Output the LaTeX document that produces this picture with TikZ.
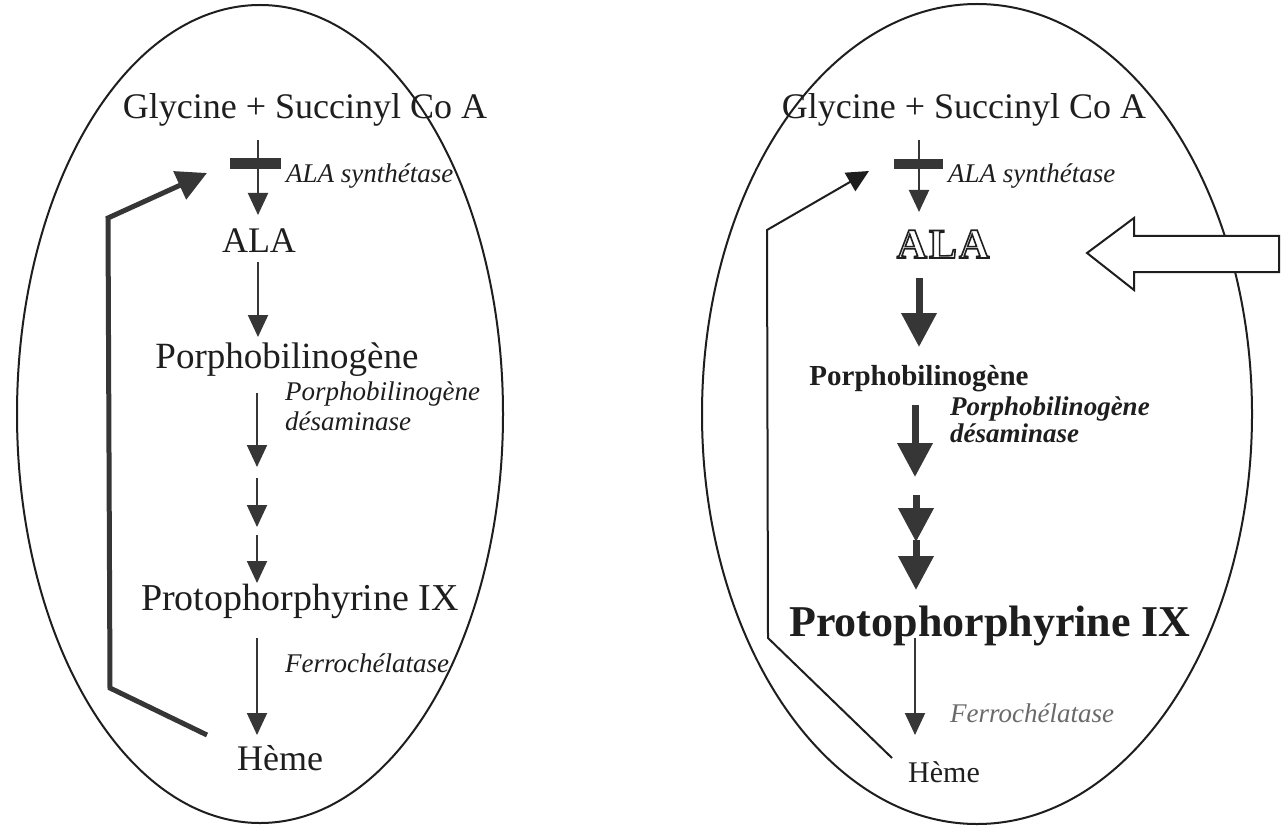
\documentclass[tikz,border=0pt]{standalone}
\usepackage{fontspec}
\setmainfont{Liberation Serif}
\usetikzlibrary{arrows.meta}
\definecolor{ink}{HTML}{1E1E1E}
\definecolor{arrowgray}{HTML}{363636}
\definecolor{fadedgray}{HTML}{6A6A6A}
% outlined (stroked, unfilled) text via PDF text rendering mode 1
\newcommand{\outlinedtext}[1]{%
  \special{pdf:literal direct q 1 Tr 1.6 w 0.12 0.12 0.12 RG}#1\special{pdf:literal direct Q}}
\tikzset{
  txt/.style={inner sep=0pt, anchor=base, text=ink, font=\fontsize{36}{40}\selectfont},
  enz/.style={inner sep=0pt, anchor=base west, text=ink, font=\fontsize{27}{30}\selectfont\itshape},
  benz/.style={inner sep=0pt, anchor=base west, text=ink, font=\fontsize{27}{30}\selectfont\bfseries\itshape},
  thinarr/.style={draw=arrowgray, line width=2pt, -{Triangle[width=20pt,length=22pt]}},
  thickarr/.style={draw=arrowgray, line width=7pt, -{Triangle[width=34pt,length=34pt]}},
  tbar/.style={fill=arrowgray, draw=none},
  fbthick/.style={draw=arrowgray, line width=5pt, line join=miter, -{Triangle[width=30pt,length=30pt]}},
  fbthin/.style={draw=ink, line width=2pt, line join=miter, -{Triangle[width=21pt,length=22pt]}},
  oval/.style={draw=ink, line width=2pt},
  hollow/.style={draw=ink, line width=2pt, fill=white, line join=miter},
}
\begin{document}
\begin{tikzpicture}[x=1pt,y=-1pt]
\useasboundingbox (0,0) rectangle (1281,826);
\fill[white] (0,0) rectangle (1281,826);

% ---------- ovals ----------
\draw[oval] (260,414) ellipse [x radius=243, y radius=409];
\draw[oval] (977,414) ellipse [x radius=275, y radius=410];

% ---------- left pathway ----------
\node[txt] (Lgly) at (305,119) {Glycine + Succinyl Co A};
\node[enz] (Lsyn) at (286,183) {ALA synthétase};
\node[txt] (Lala) at (259,252) {ALA};
\node[txt, font=\fontsize{37}{40}\selectfont] (Lpbg) at (287,368) {Porphobilinogène};
\node[enz] (Ldes1) at (285,400) {Porphobilinogène};
\node[enz] (Ldes2) at (285,430) {désaminase};
\node[txt, font=\fontsize{38}{40}\selectfont] (Lproto) at (300,610) {Protophorphyrine IX};
\node[enz] (Lferro) at (285,672) {Ferrochélatase};
\node[txt] (Lheme) at (280,770) {Hème};

\coordinate (La0) at (258,140);
\coordinate (La1) at (258,215);
\coordinate (Lb0) at (258,262);
\coordinate (Lb1) at (258,337);
\coordinate (Lc0) at (257,393);
\coordinate (Lc1) at (257,467);
\coordinate (Ld0) at (257,478);
\coordinate (Ld1) at (257,527);
\coordinate (Le0) at (257,535);
\coordinate (Le1) at (257,583);
\coordinate (Lf0) at (257,638);
\coordinate (Lf1) at (257,735);

\draw[thinarr] (La0) -- (La1);
\fill[tbar] (230,158) rectangle (281,169);
\draw[thinarr] (Lb0) -- (Lb1);
\draw[thinarr] (Lc0) -- (Lc1);
\draw[thinarr] (Ld0) -- (Ld1);
\draw[thinarr] (Le0) -- (Le1);
\draw[thinarr] (Lf0) -- (Lf1);

% feedback (left)
\coordinate (Lfb0) at (207,735);
\coordinate (Lfb1) at (110,688);
\coordinate (Lfb2) at (108,218);
\coordinate (Lfb3) at (207,173);
\draw[fbthick] (Lfb0) -- (Lfb1) -- (Lfb2) -- (Lfb3);

% ---------- right pathway ----------
\node[txt] (Rgly) at (964,119) {Glycine + Succinyl Co A};
\node[enz] (Rsyn) at (948,183) {ALA synthétase};
\node[inner sep=0pt, anchor=base, font=\fontsize{42}{46}\selectfont\bfseries] (Rala) at (943,258)
  {\outlinedtext{A\kern2pt L\kern2pt A}};
\node[txt, font=\fontsize{29}{32}\selectfont\bfseries] (Rpbg) at (919,385) {Porphobilinogène};
\node[benz] (Rdes1) at (950,415) {Porphobilinogène};
\node[benz] (Rdes2) at (950,442) {désaminase};
\node[txt, font=\fontsize{44}{46}\selectfont\bfseries] (Rproto) at (990,636) {Protophorphyrine IX};
\node[enz, text=fadedgray] (Rferro) at (950,722) {Ferrochélatase};
\node[txt, font=\fontsize{30}{33}\selectfont] (Rheme) at (944,782) {Hème};

\coordinate (Ra0) at (919,140);
\coordinate (Ra1) at (919,212);
\coordinate (Rb0) at (919,278);
\coordinate (Rb1) at (919,347);
\coordinate (Rc0) at (915,405);
\coordinate (Rc1) at (915,477);
\coordinate (Rd0) at (916,495);
\coordinate (Rd1) at (916,542);
\coordinate (Re0) at (916,540);
\coordinate (Re1) at (916,590);
\coordinate (Rf0) at (915,638);
\coordinate (Rf1) at (915,735);

\draw[thinarr] (Ra0) -- (Ra1);
\fill[tbar] (894,159) rectangle (943,169);
\draw[thickarr] (Rb0) -- (Rb1);
\draw[thickarr] (Rc0) -- (Rc1);
\draw[thickarr] (Rd0) -- (Rd1);
\draw[thickarr] (Re0) -- (Re1);
\draw[thinarr] (Rf0) -- (Rf1);

% feedback (right)
\coordinate (Rfb0) at (892,758);
\coordinate (Rfb1) at (768,638);
\coordinate (Rfb2) at (767,230);
\coordinate (Rfb3) at (869,171);
\draw[fbthin] (Rfb0) -- (Rfb1) -- (Rfb2) -- (Rfb3);

% hollow arrow pointing to ALA
\draw[hollow] (1087,253) -- (1134,218) -- (1134,236) -- (1279,236) -- (1279,272)
  -- (1134,272) -- (1134,290) -- cycle;
\end{tikzpicture}
\end{document}
